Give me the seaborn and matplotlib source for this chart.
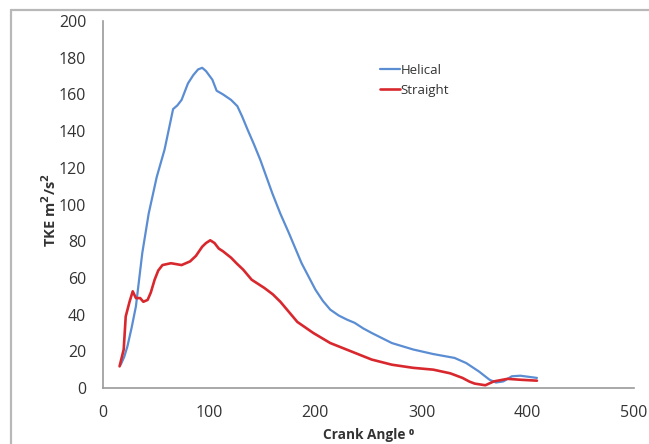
import matplotlib
matplotlib.use("Agg")
import matplotlib.pyplot as plt
from matplotlib.lines import Line2D
import seaborn as sns
import pandas as pd

# Turbulent kinetic energy vs crank angle
helical_angle = [16.7, 20, 23, 27, 31, 37, 43, 50.6, 58, 62, 66, 70, 74, 80, 85, 89.5,
                 93.4, 97, 103, 107, 113, 120.6, 126.5, 131, 136, 142, 148, 159.5, 167,
                 175, 187, 200, 207, 214, 222, 229.6, 237, 245, 253, 272, 292, 311, 331,
                 342, 354, 364, 370, 377, 385, 393, 408.6]
helical_tke = [12.7, 17, 22.7, 33, 44.5, 73.6, 95, 115, 130, 141, 152, 154, 157, 166,
               170.5, 173.6, 174.5, 172.7, 168, 162, 160, 157, 153.6, 148, 141, 133,
               124.5, 106, 95, 84.5, 68, 53.6, 47.5, 42.7, 39.5, 37.3, 35.5, 32.5, 30,
               24.5, 21, 18.5, 16.4, 13.6, 9, 4.5, 3, 3.6, 6.4, 6.7, 5.5]

straight_angle = [15.6, 19.5, 21.4, 25, 28, 31, 35, 38, 42, 45, 48.6, 52, 56, 64, 74,
                  82, 87.5, 93.4, 97, 101, 105, 109, 113, 120.6, 126, 132, 140, 152,
                  160, 167, 175, 183, 198, 214, 233.5, 253, 272, 292, 311, 327, 338.5,
                  345, 350, 360, 368, 381, 393, 408.6]
straight_tke = [11.8, 21, 39, 47, 52.7, 49, 49, 47, 48, 52, 59, 64, 67, 68, 67, 69, 72,
                77, 79, 80.5, 79, 76, 74.5, 71, 67.8, 64.5, 59, 54.5, 51, 47, 41.5, 36,
                30, 24.5, 20, 15.5, 12.7, 11, 10, 8, 5.5, 3.5, 2.4, 1.5, 3.6, 5, 4.5, 4]

x_ticks = [0, 100, 200, 300, 400, 500]
y_ticks = [0, 20, 40, 60, 80, 100, 120, 140, 160, 180, 200]

sns.set_style("white")
plt.rcParams["font.family"] = ["Open Sans", "DejaVu Sans"]

helical = pd.DataFrame({"angle": helical_angle, "tke": helical_tke})
straight = pd.DataFrame({"angle": straight_angle, "tke": straight_tke})

fig = plt.figure(figsize=(6.49, 4.44), dpi=100)
ax = fig.add_axes([0.1587, 0.1261, 0.8182, 0.8266])

sns.lineplot(data=helical, x="angle", y="tke", sort=False, ax=ax,
             color="#5b8dd3", linewidth=1.6, label="Helical")
sns.lineplot(data=straight, x="angle", y="tke", sort=False, ax=ax,
             color="#d8282e", linewidth=1.9, label="Straight")
for line in ax.get_lines():
    line.set_solid_joinstyle("round")

ax.set_xlim(0, 500)
ax.set_ylim(0, 200)
ax.set_xticks(x_ticks)
ax.set_yticks(y_ticks)
ax.tick_params(axis="both", direction="out", length=4, width=1, color="#9a9a9a",
               labelsize=11.5, labelcolor="#333333")
ax.tick_params(axis="y", pad=8)
ax.tick_params(axis="x", pad=8)

for side in ("top", "right"):
    ax.spines[side].set_visible(False)
for side in ("left", "bottom"):
    ax.spines[side].set_color("#9a9a9a")
    ax.spines[side].set_linewidth(1.2)

ax.set_xlabel("Crank Angle \u2070", fontsize=9.8, fontweight="bold", color="#333333",
              labelpad=5)
ax.set_ylabel("TKE m$^{\\mathbf{2}}$/s$^{\\mathbf{2}}$", fontsize=10.5, fontweight="bold",
              color="#333333")
ax.yaxis.set_label_coords(-0.083, 0.485)

leg = ax.legend(loc="upper left", bbox_to_anchor=(0.5, 0.915), frameon=False,
                fontsize=9.5, handlelength=1.45, handletextpad=0.1, labelspacing=0.5)
for t in leg.get_texts():
    t.set_color("#333333")

# outer frame of the figure
fig.add_artist(Line2D([11 / 649, 11 / 649], [0, 1 - 10 / 444], transform=fig.transFigure,
                      color="#b8b8b8", linewidth=1.6))
fig.add_artist(Line2D([11 / 649, 1], [1 - 10 / 444, 1 - 10 / 444], transform=fig.transFigure,
                      color="#b8b8b8", linewidth=1.6))

fig.savefig("out.png", dpi=100)
